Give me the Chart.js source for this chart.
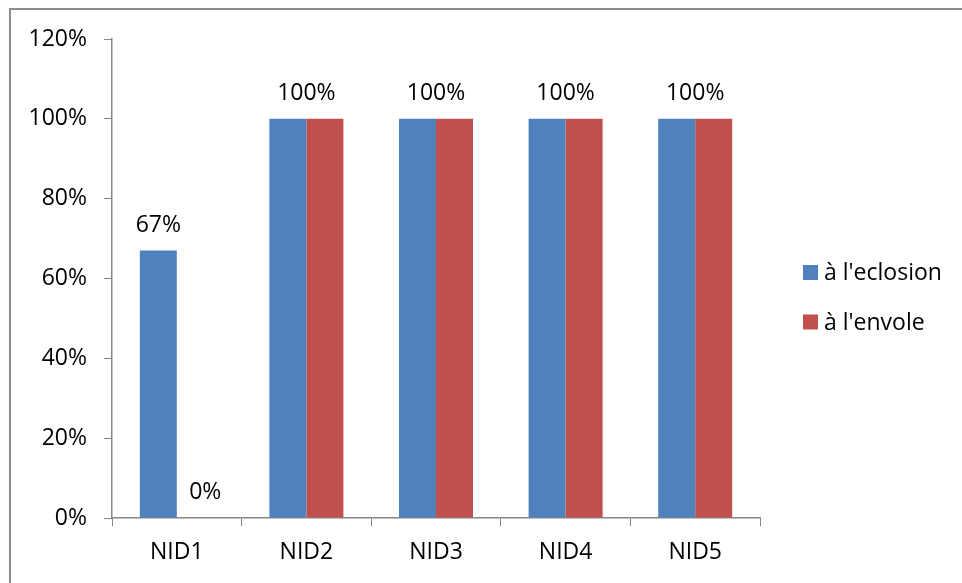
<!DOCTYPE html>
<html>
<head>
<meta charset="utf-8">
<script src="https://cdn.jsdelivr.net/npm/chart.js@4"></script>
<style>
  html, body { margin: 0; padding: 0; background: #fff; }
  #wrap { position: relative; width: 962px; height: 583px; }
</style>
</head>
<body>
<div id="wrap"><canvas id="c" width="962" height="583"></canvas></div>
<script>
// Nest categories and hatching / fledging success rates (%)
const categories = ['NID1', 'NID2', 'NID3', 'NID4', 'NID5'];
const eclosion = [67, 100, 100, 100, 100];
const envole = [0, 100, 100, 100, 100];
const seriesNames = ["à l'eclosion", "à l'envole"];
const yTicks = [0, 20, 40, 60, 80, 100, 120];

const FONT = "'Open Sans', sans-serif";
const FONT_SIZE = 23;
const AXIS_GRAY = '#868686';

// Outer frame around the chart
const framePlugin = {
  id: 'frame',
  beforeDraw(chart) {
    const ctx = chart.ctx;
    ctx.save();
    ctx.fillStyle = '#fff';
    ctx.fillRect(0, 0, chart.width, chart.height);
    ctx.strokeStyle = '#8c8c8c';
    ctx.lineWidth = 2;
    ctx.strokeRect(10, 9, chart.width + 20, chart.height + 20);
    ctx.restore();
  }
};

// Value labels above the bars; one shared label when both bars of a group are equal
const valueLabels = {
  id: 'valueLabels',
  afterDatasetsDraw(chart) {
    const ctx = chart.ctx;
    const m0 = chart.getDatasetMeta(0);
    const m1 = chart.getDatasetMeta(1);
    ctx.save();
    ctx.font = FONT_SIZE + 'px ' + FONT;
    ctx.fillStyle = '#000';
    ctx.textAlign = 'center';
    ctx.textBaseline = 'alphabetic';
    categories.forEach((c, i) => {
      const a = eclosion[i], b = envole[i];
      const ea = m0.data[i], eb = m1.data[i];
      if (a === b) {
        ctx.fillText(a + '%', (ea.x + eb.x) / 2, Math.min(ea.y, eb.y) - 19);
      } else {
        ctx.fillText(a + '%', ea.x, ea.y - 19);
        ctx.fillText(b + '%', eb.x + 10, eb.y - 19);
      }
    });
    ctx.restore();
  }
};

// Legend drawn to the right of the plot, built from the datasets
const sideLegend = {
  id: 'sideLegend',
  afterDraw(chart) {
    const ctx = chart.ctx;
    ctx.save();
    ctx.font = FONT_SIZE + 'px ' + FONT;
    ctx.textBaseline = 'middle';
    ctx.textAlign = 'left';
    chart.data.datasets.forEach((ds, i) => {
      const cy = 272.5 + i * 49.5;
      ctx.fillStyle = ds.backgroundColor;
      ctx.fillRect(803, cy - 7.5, 15, 15);
      ctx.fillStyle = '#000';
      ctx.fillText(ds.label, 824, cy + 1);
    });
    ctx.restore();
  }
};

new Chart(document.getElementById('c'), {
  type: 'bar',
  data: {
    labels: categories,
    datasets: [
      { label: seriesNames[0], data: eclosion, backgroundColor: '#4F81BD' },
      { label: seriesNames[1], data: envole, backgroundColor: '#C0504D' }
    ]
  },
  options: {
    responsive: false,
    animation: false,
    devicePixelRatio: 1,
    layout: { padding: { left: 0, top: 39, right: 202, bottom: 0 } },
    datasets: { bar: { categoryPercentage: 0.571, barPercentage: 1.0 } },
    plugins: {
      legend: { display: false },
      tooltip: { enabled: false }
    },
    scales: {
      x: {
        offset: true,
        grid: { offset: true, drawOnChartArea: false, drawTicks: true, tickLength: 8, color: AXIS_GRAY, lineWidth: 1 },
        border: { color: AXIS_GRAY, width: 1.5 },
        ticks: { color: '#000', font: { family: FONT, size: FONT_SIZE }, padding: 13, maxRotation: 0 },
        afterFit(scale) { scale.height = 65; }
      },
      y: {
        min: 0,
        max: 120,
        afterBuildTicks(scale) { scale.ticks = yTicks.map(v => ({ value: v })); },
        grid: { drawOnChartArea: false, drawTicks: true, tickLength: 8, color: AXIS_GRAY, lineWidth: 1 },
        border: { color: AXIS_GRAY, width: 1.5 },
        ticks: {
          color: '#000',
          font: { family: FONT, size: FONT_SIZE },
          padding: 17,
          callback: v => v + '%'
        },
        afterFit(scale) { scale.width = 112; }
      }
    }
  },
  plugins: [framePlugin, valueLabels, sideLegend]
});
</script>
</body>
</html>
